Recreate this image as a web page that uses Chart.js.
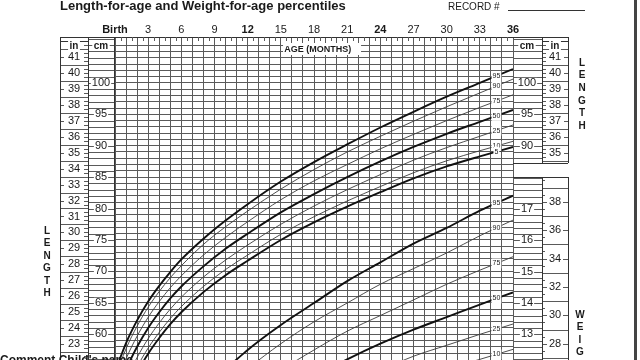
<!DOCTYPE html>
<html>
<head>
<meta charset="utf-8">
<script src="https://cdn.jsdelivr.net/npm/chart.js@4.4.1/dist/chart.umd.min.js"></script>
<style>
  html, body { margin: 0; padding: 0; background: #fff; }
  #wrap { position: relative; width: 640px; height: 360px; overflow: hidden; }
</style>
</head>
<body>
<div id="wrap"><canvas id="growth" width="640" height="360"></canvas></div>
<script>
// ages in months
const lenAges = [0, 1, 2, 3, 4, 5, 6, 8, 10, 12, 15, 18, 21, 24, 27, 30, 33, 36];
// length-for-age (cm)
const len95 = [54.0, 58.6, 62.2, 65.2, 67.7, 69.9, 71.9, 75.2, 78.1, 80.7, 84.3, 87.4, 90.2, 92.9, 95.4, 97.8, 100.0, 102.2];
const len90 = [53.1, 57.7, 61.3, 64.3, 66.8, 69.0, 70.9, 74.3, 77.1, 79.6, 83.1, 86.2, 89.0, 91.5, 93.9, 96.2, 98.4, 100.6];
const len75 = [51.6, 56.1, 59.7, 62.7, 65.2, 67.4, 69.3, 72.6, 75.4, 77.9, 81.4, 84.4, 87.0, 89.5, 91.8, 94.0, 96.1, 98.1];
const len50 = [49.9, 54.4, 58.0, 61.0, 63.5, 65.7, 67.6, 70.8, 73.6, 76.0, 79.4, 82.3, 85.0, 87.5, 89.8, 91.9, 93.8, 95.7];
const len25 = [48.2, 52.7, 56.3, 59.3, 61.8, 64.0, 65.9, 69.1, 71.8, 74.2, 77.5, 80.4, 83.0, 85.4, 87.7, 89.7, 91.5, 93.3];
const len10 = [46.8, 51.2, 54.8, 57.8, 60.3, 62.5, 64.4, 67.6, 70.3, 72.6, 75.9, 78.7, 81.2, 83.5, 85.7, 87.6, 89.2, 90.7];
const len5  = [46.0, 50.4, 53.9, 56.9, 59.4, 61.6, 63.5, 66.7, 69.4, 71.7, 75.0, 77.8, 80.3, 82.6, 84.8, 86.7, 88.3, 89.8];

const wtAges = [6, 9, 12, 15, 18, 21, 24, 27, 30, 33, 36];
// weight-for-age (kg)
const wt95 = [10.0, 11.5, 12.5, 13.3, 14.0, 14.7, 15.3, 15.9, 16.4, 16.95, 17.43];
const wt90 = [9.5, 11.0, 11.9, 12.7, 13.4, 14.0, 14.6, 15.1, 15.6, 16.15, 16.65];
const wt75 = [8.9, 10.3, 11.1, 11.85, 12.5, 13.1, 13.6, 14.1, 14.6, 15.05, 15.48];
const wt50 = [8.3, 9.6, 10.4, 11.05, 11.65, 12.2, 12.7, 13.15, 13.55, 13.95, 14.34];
const wt25 = [7.7, 9.0, 9.7, 10.35, 10.9, 11.4, 11.85, 12.3, 12.65, 13.0, 13.33];
const wt10 = [7.3, 8.5, 9.2, 9.8, 10.3, 10.8, 11.2, 11.55, 11.9, 12.2, 12.52];
const wt5  = [7.0, 8.2, 8.9, 9.5, 10.0, 10.4, 10.8, 11.15, 11.5, 11.8, 12.1];

const monthTicks = [0, 3, 6, 9, 12, 15, 18, 21, 24, 27, 30, 33, 36];
const monthLabels = ["Birth", "3", "6", "9", "12", "15", "18", "21", "24", "27", "30", "33", "36"];
const boldMonths = [0, 12, 24, 36];
const cmLabelsLeft = [60, 65, 70, 75, 80, 85, 90, 95, 100];
const cmLabelsRight = [90, 95, 100];
const inLabelsLeft = [23, 24, 25, 26, 27, 28, 29, 30, 31, 32, 33, 34, 35, 36, 37, 38, 39, 40, 41];
const inLabelsRight = [35, 36, 37, 38, 39, 40, 41];
const kgLabels = [13, 14, 15, 16, 17];
const lbLabels = [28, 30, 32, 34, 36, 38];
const pctNames = ["95", "90", "75", "50", "25", "10", "5"];

const lenSeries = [len95, len90, len75, len50, len25, len10, len5];
const wtSeries = [wt95, wt90, wt75, wt50, wt25, wt10, wt5];
const boldPct = ["95", "50", "5"];

const FONT = "'Liberation Sans', Arial, Helvetica, sans-serif";
const INK = "#1a1a1a";
const GRID = "#5a5a5a";

function makeSet(ages, vals, name, axis) {
  const bold = boldPct.includes(name);
  return {
    label: name,
    data: ages.map((a, i) => ({ x: a, y: vals[i] })),
    yAxisID: axis,
    borderColor: bold ? "#111" : "#3a3a3a",
    borderWidth: bold ? 1.9 : 0.9,
    pointRadius: 0,
    cubicInterpolationMode: "monotone",
    fill: false,
  };
}

const datasets = [];
lenSeries.forEach((s, i) => datasets.push(makeSet(lenAges, s, pctNames[i], "yLen")));
wtSeries.forEach((s, i) => datasets.push(makeSet(wtAges, s, pctNames[i], "yWt")));

// value on a series at a given age (linear between points), used to place the labels
function valueAt(ages, vals, age) {
  for (let i = 1; i < ages.length; i++) {
    if (age <= ages[i]) {
      const t = (age - ages[i - 1]) / (ages[i] - ages[i - 1]);
      return vals[i - 1] + t * (vals[i] - vals[i - 1]);
    }
  }
  return vals[vals.length - 1];
}

function hline(ctx, x1, x2, y) {
  ctx.beginPath();
  ctx.moveTo(x1, Math.round(y) + 0.5);
  ctx.lineTo(x2, Math.round(y) + 0.5);
  ctx.stroke();
}
function vline(ctx, x, y1, y2) {
  ctx.beginPath();
  ctx.moveTo(Math.round(x) + 0.5, y1);
  ctx.lineTo(Math.round(x) + 0.5, y2);
  ctx.stroke();
}
function boxLabel(ctx, text, x, y, font, padX) {
  ctx.font = font;
  const w = ctx.measureText(text).width;
  ctx.fillStyle = "#fff";
  ctx.fillRect(x - w / 2 - padX, y - 5, w + padX * 2, 10);
  ctx.fillStyle = INK;
  ctx.fillText(text, x, y);
}

const sheet = {
  id: "sheet",
  afterDatasetsDraw(chart) {
    const { ctx, chartArea: a, scales } = chart;
    const x = scales.x, yL = scales.yLen, yW = scales.yWt;
    const splitTop = 163, splitBot = 177;
    ctx.save();
    ctx.strokeStyle = GRID;
    ctx.lineWidth = 1;

    // cm column grid lines (left and right)
    for (let c = 56; c <= 107; c++) {
      const py = yL.getPixelForValue(c);
      if (py < a.top || py > a.bottom) continue;
      hline(ctx, 88, a.left, py);
      if (py < splitTop) hline(ctx, a.right, 542, py);
    }
    // kg column lines (0.2 kg)
    for (let k = 61; k <= 112; k++) {
      const py = yW.getPixelForValue(k * 0.2);
      if (py > splitBot && py < a.bottom) hline(ctx, a.right, 542, py);
    }

    // inch columns: half-inch full lines, quarter ticks
    for (let q = 88; q <= 168; q++) {
      const inch = q / 4;
      const py = yL.getPixelForValue(inch * 2.54);
      if (py < 41 || py > a.bottom) continue;
      const full = q % 2 === 0 && q % 4 !== 0;
      if (full) hline(ctx, 60, 88, py);
      else if (q % 4 === 0) { hline(ctx, 60, 64, py); hline(ctx, 84, 88, py); }
      else hline(ctx, 84, 88, py);
      if (py > 41 && py < splitTop) {
        if (full) hline(ctx, 542, 568, py);
        else if (q % 4 === 0) { hline(ctx, 542, 546, py); hline(ctx, 564, 568, py); }
        else hline(ctx, 542, 546, py);
      }
    }
    // lb ticks
    for (let l = 54; l <= 100; l++) {
      const py = yW.getPixelForValue(l / 2 / 2.2046);
      if (py <= splitBot || py > a.bottom) continue;
      const lb = l / 2;
      if (lb % 2 === 0) { hline(ctx, 542, 547, py); hline(ctx, 563, 568, py); }
      else if (l % 2 === 0) hline(ctx, 542, 568, py);
      else hline(ctx, 542, 545, py);
    }

    // column borders
    ctx.strokeStyle = "#333";
    vline(ctx, 60, 37, 360);
    vline(ctx, 88, 37, 360);
    vline(ctx, a.left - 1, 37, 360);
    vline(ctx, 542, 37, splitTop);
    vline(ctx, 568, 37, splitTop);
    vline(ctx, 542, splitBot, 360);
    vline(ctx, 568, splitBot, 360);
    hline(ctx, 60, a.right, 37);
    hline(ctx, a.right, 568, 37);
    hline(ctx, a.right, 568, splitTop);
    hline(ctx, a.right, 568, splitBot);
    hline(ctx, 60, 88, 41);
    hline(ctx, 542, 568, 41);
    ctx.fillStyle = "#fff";
    ctx.fillRect(a.right + 1, splitTop + 1, 60, splitBot - splitTop - 1);

    // half-month ticks along the top edge
    ctx.strokeStyle = GRID;
    for (let m = 0.5; m < 36; m++) {
      vline(ctx, x.getPixelForValue(m), 37, 41);
    }

    ctx.textAlign = "center";
    ctx.textBaseline = "middle";

    boxLabel(ctx, "in", 74, 46, "bold 10px " + FONT, 1.5);
    boxLabel(ctx, "cm", 101, 46, "bold 10px " + FONT, 1.5);
    boxLabel(ctx, "cm", 527, 46, "bold 10px " + FONT, 1.5);
    boxLabel(ctx, "in", 555, 46, "bold 10px " + FONT, 1.5);

    cmLabelsLeft.forEach(c => boxLabel(ctx, String(c), 101, yL.getPixelForValue(c), "11px " + FONT, 1));
    cmLabelsRight.forEach(c => boxLabel(ctx, String(c), 527, yL.getPixelForValue(c), "11px " + FONT, 1));
    inLabelsLeft.forEach(n => boxLabel(ctx, String(n), 74, yL.getPixelForValue(n * 2.54), "11px " + FONT, 1));
    inLabelsRight.forEach(n => boxLabel(ctx, String(n), 555, yL.getPixelForValue(n * 2.54), "11px " + FONT, 1));
    kgLabels.forEach(k => boxLabel(ctx, String(k), 527, yW.getPixelForValue(k), "11px " + FONT, 1));
    lbLabels.forEach(l => boxLabel(ctx, String(l), 555, yW.getPixelForValue(l / 2.2046), "11px " + FONT, 1));

    // percentile labels near the right end of each curve
    const labAge = 34.5;
    const lx = x.getPixelForValue(labAge);
    lenSeries.forEach((s, i) => {
      boxLabel(ctx, pctNames[i], lx, yL.getPixelForValue(valueAt(lenAges, s, labAge)), "7px " + FONT, 1);
    });
    wtSeries.forEach((s, i) => {
      const py = yW.getPixelForValue(valueAt(wtAges, s, labAge));
      if (py < a.bottom - 3) boxLabel(ctx, pctNames[i], lx, py, "7px " + FONT, 1);
    });

    // AGE (MONTHS) box
    ctx.fillStyle = "#fff";
    ctx.fillRect(x.getPixelForValue(15.2), 43, 78, 12);
    ctx.fillStyle = INK;
    ctx.font = "bold 9px " + FONT;
    ctx.textAlign = "left";
    ctx.fillText("AGE (MONTHS)", x.getPixelForValue(15.3), 50);

    ctx.textAlign = "center";
    monthTicks.forEach((m, i) => {
      ctx.font = (boldMonths.includes(m) ? "bold " : "") + "11px " + FONT;
      ctx.fillText(monthLabels[i], x.getPixelForValue(m), 30);
    });

    ctx.font = "bold 10px " + FONT;
    "LENGTH".split("").forEach((ch, i) => ctx.fillText(ch, 47, 231 + i * 12.5));
    "LENGTH".split("").forEach((ch, i) => ctx.fillText(ch, 582, 63 + i * 12.6));
    "WEIG".split("").forEach((ch, i) => ctx.fillText(ch, 580, 315 + i * 12.5));

    ctx.textAlign = "left";
    ctx.font = "bold 13px " + FONT;
    ctx.fillText("Length-for-age and Weight-for-age percentiles", 60, 6);
    ctx.font = "10px " + FONT;
    ctx.fillText("RECORD #", 448, 7);
    ctx.strokeStyle = "#333";
    hline(ctx, 508, 585, 10);

    // bottom caption, cut by the page edge
    ctx.font = "bold 12px " + FONT;
    ctx.fillText("Comment Child's name", 0, 361);

    ctx.fillStyle = "#444";
    ctx.fillRect(634, 0, 3, 360);
    ctx.restore();
  },
};

new Chart(document.getElementById("growth"), {
  type: "line",
  data: { datasets },
  options: {
    responsive: false,
    animation: false,
    events: [],
    layout: { padding: { left: 115, right: 127, top: 37, bottom: 0 } },
    plugins: { legend: { display: false }, tooltip: { enabled: false } },
    scales: {
      x: {
        type: "linear", min: 0, max: 36,
        ticks: { display: false, stepSize: 1 },
        grid: { color: GRID, lineWidth: 1, drawTicks: false },
        border: { display: false },
      },
      yLen: {
        type: "linear", position: "left", min: 55.9, max: 107.3,
        ticks: { display: false, stepSize: 1 },
        grid: { color: GRID, lineWidth: 1, drawTicks: false },
        border: { display: false },
      },
      yWt: {
        type: "linear", position: "right", display: false,
        min: 12.18, max: 22.5,
      },
    },
  },
  plugins: [sheet],
});
</script>
</body>
</html>
